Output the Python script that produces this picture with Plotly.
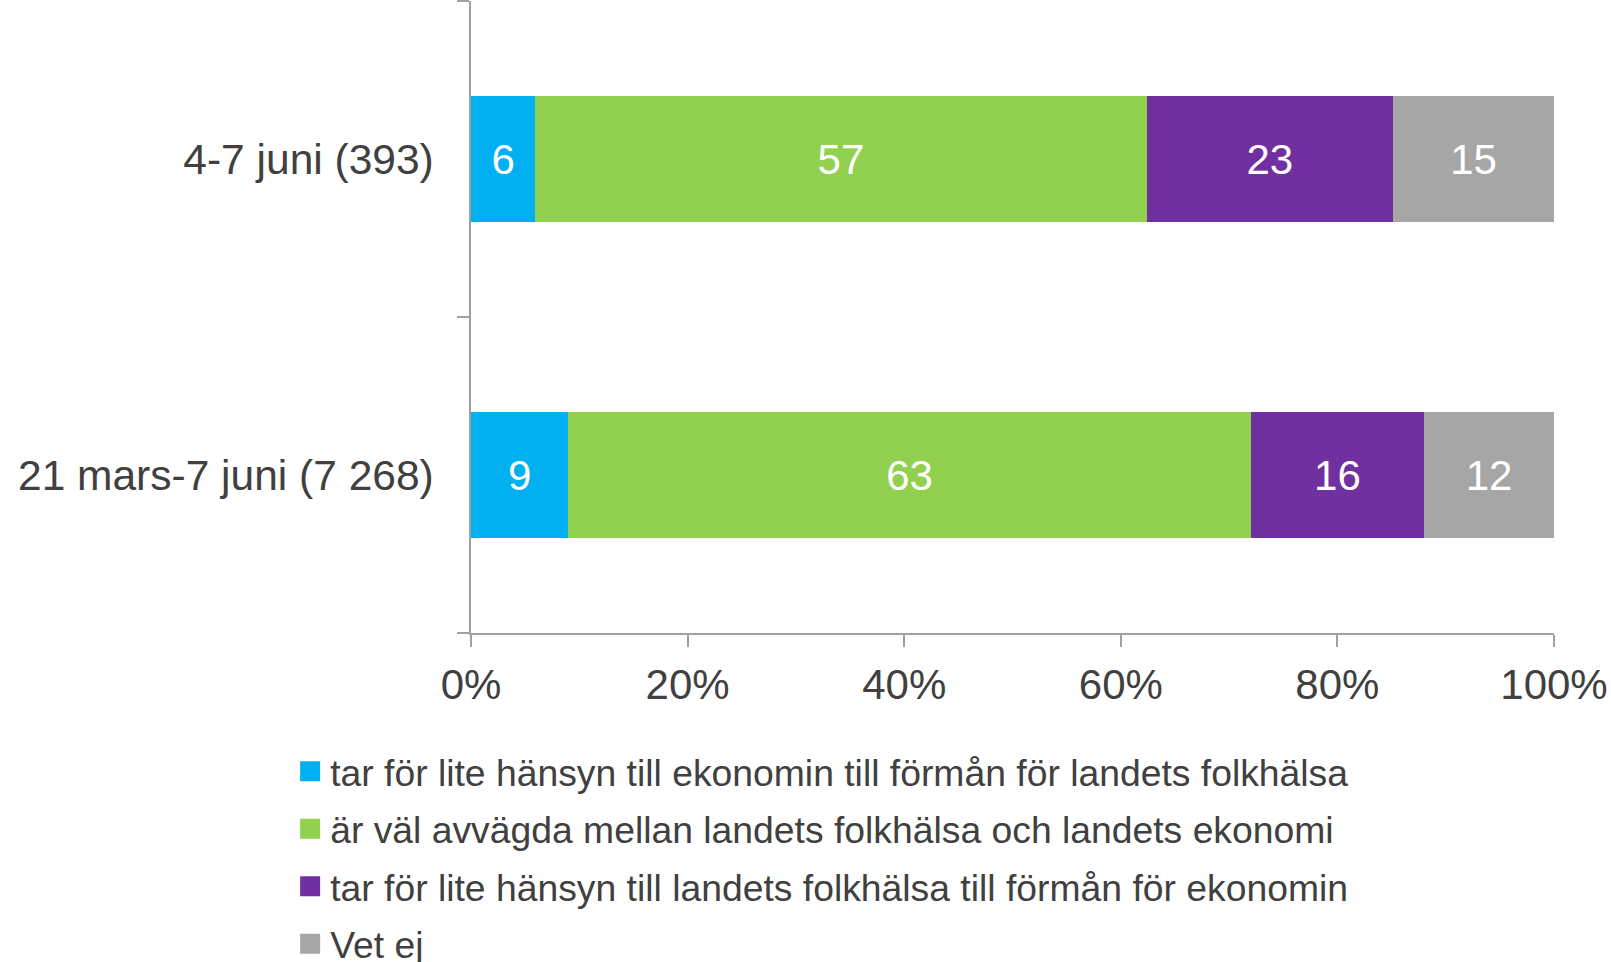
import plotly.graph_objects as go

categories = ["21 mars-7 juni (7 268)", "4-7 juni (393)"]
series_names = [
    "tar för lite hänsyn till ekonomin till förmån för landets folkhälsa",
    "är väl avvägda mellan landets folkhälsa och landets ekonomi",
    "tar för lite hänsyn till landets folkhälsa till förmån för ekonomin",
    "Vet ej",
]
vals_ekonomi = [9, 6]
vals_avvagda = [63, 57]
vals_folkhalsa = [16, 23]
vals_vetej = [12, 15]
colors = ["#00B0F0", "#92D050", "#7030A0", "#A6A6A6"]
tick_vals = [0, 20, 40, 60, 80, 100]
tick_text = ["0%", "20%", "40%", "60%", "80%", "100%"]

FONT = "Liberation Sans, Arial, sans-serif"
TXT = "#404040"

fig = go.Figure()
for i, (name, vals, col) in enumerate(zip(series_names,
                           [vals_ekonomi, vals_avvagda, vals_folkhalsa, vals_vetej],
                           colors)):
    fig.add_trace(go.Bar(
        y=categories, x=vals, name=name, orientation="h",
        marker=dict(color=col, line=dict(width=0)),
        text=[str(v) for v in vals], textposition="inside",
        insidetextanchor="middle", constraintext="none",
        textfont=dict(color="white", size=42, family=FONT),
        hoverinfo="skip", showlegend=False,
    ))
# legend entries (square symbols)
for i, (name, col) in enumerate(zip(series_names, colors)):
    fig.add_trace(go.Scatter(
        x=[None], y=[None], mode="markers", name=name,
        legendgroup=f"g{i}",
        marker=dict(symbol="square", size=16, color=col,
                    line=dict(color=col, width=4)),
        hoverinfo="skip",
    ))

fig.update_layout(
    width=1611, height=962,
    barmode="stack", barnorm="percent", bargap=0.6,
    paper_bgcolor="white", plot_bgcolor="white",
    margin=dict(l=471, r=57, t=1, b=329, autoexpand=False),
    font=dict(family=FONT, color=TXT, size=42),
    showlegend=True,
    legend=dict(
        orientation="v", traceorder="grouped", tracegroupgap=6,
        x=-0.167, xanchor="left", y=-0.17, yanchor="top",
        font=dict(size=37.3, color=TXT, family=FONT),
        bgcolor="rgba(0,0,0,0)",
    ),
    xaxis=dict(
        range=[0, 100], tickvals=tick_vals, ticktext=tick_text,
        showgrid=False, zeroline=False,
        showline=True, linecolor="#A0A0A0", linewidth=1.5,
        ticks="outside", ticklen=12, tickcolor="#A0A0A0", tickwidth=1.5,
        tickfont=dict(size=42, color=TXT, family=FONT),
        ticklabelstandoff=2,
    ),
    yaxis=dict(
        categoryorder="array", categoryarray=categories,
        showgrid=False, zeroline=False,
        showline=True, linecolor="#A0A0A0", linewidth=1.5,
        ticks="outside", ticklen=12, tickcolor="#A0A0A0", tickwidth=1.5,
        tickson="boundaries",
        tickfont=dict(size=42.5, color=TXT, family=FONT),
        ticklabelstandoff=27,
    ),
)

fig.write_html("out.html", config={"displayModeBar": False},
               post_script="document.body.style.margin='0';document.body.style.overflow='hidden';")
